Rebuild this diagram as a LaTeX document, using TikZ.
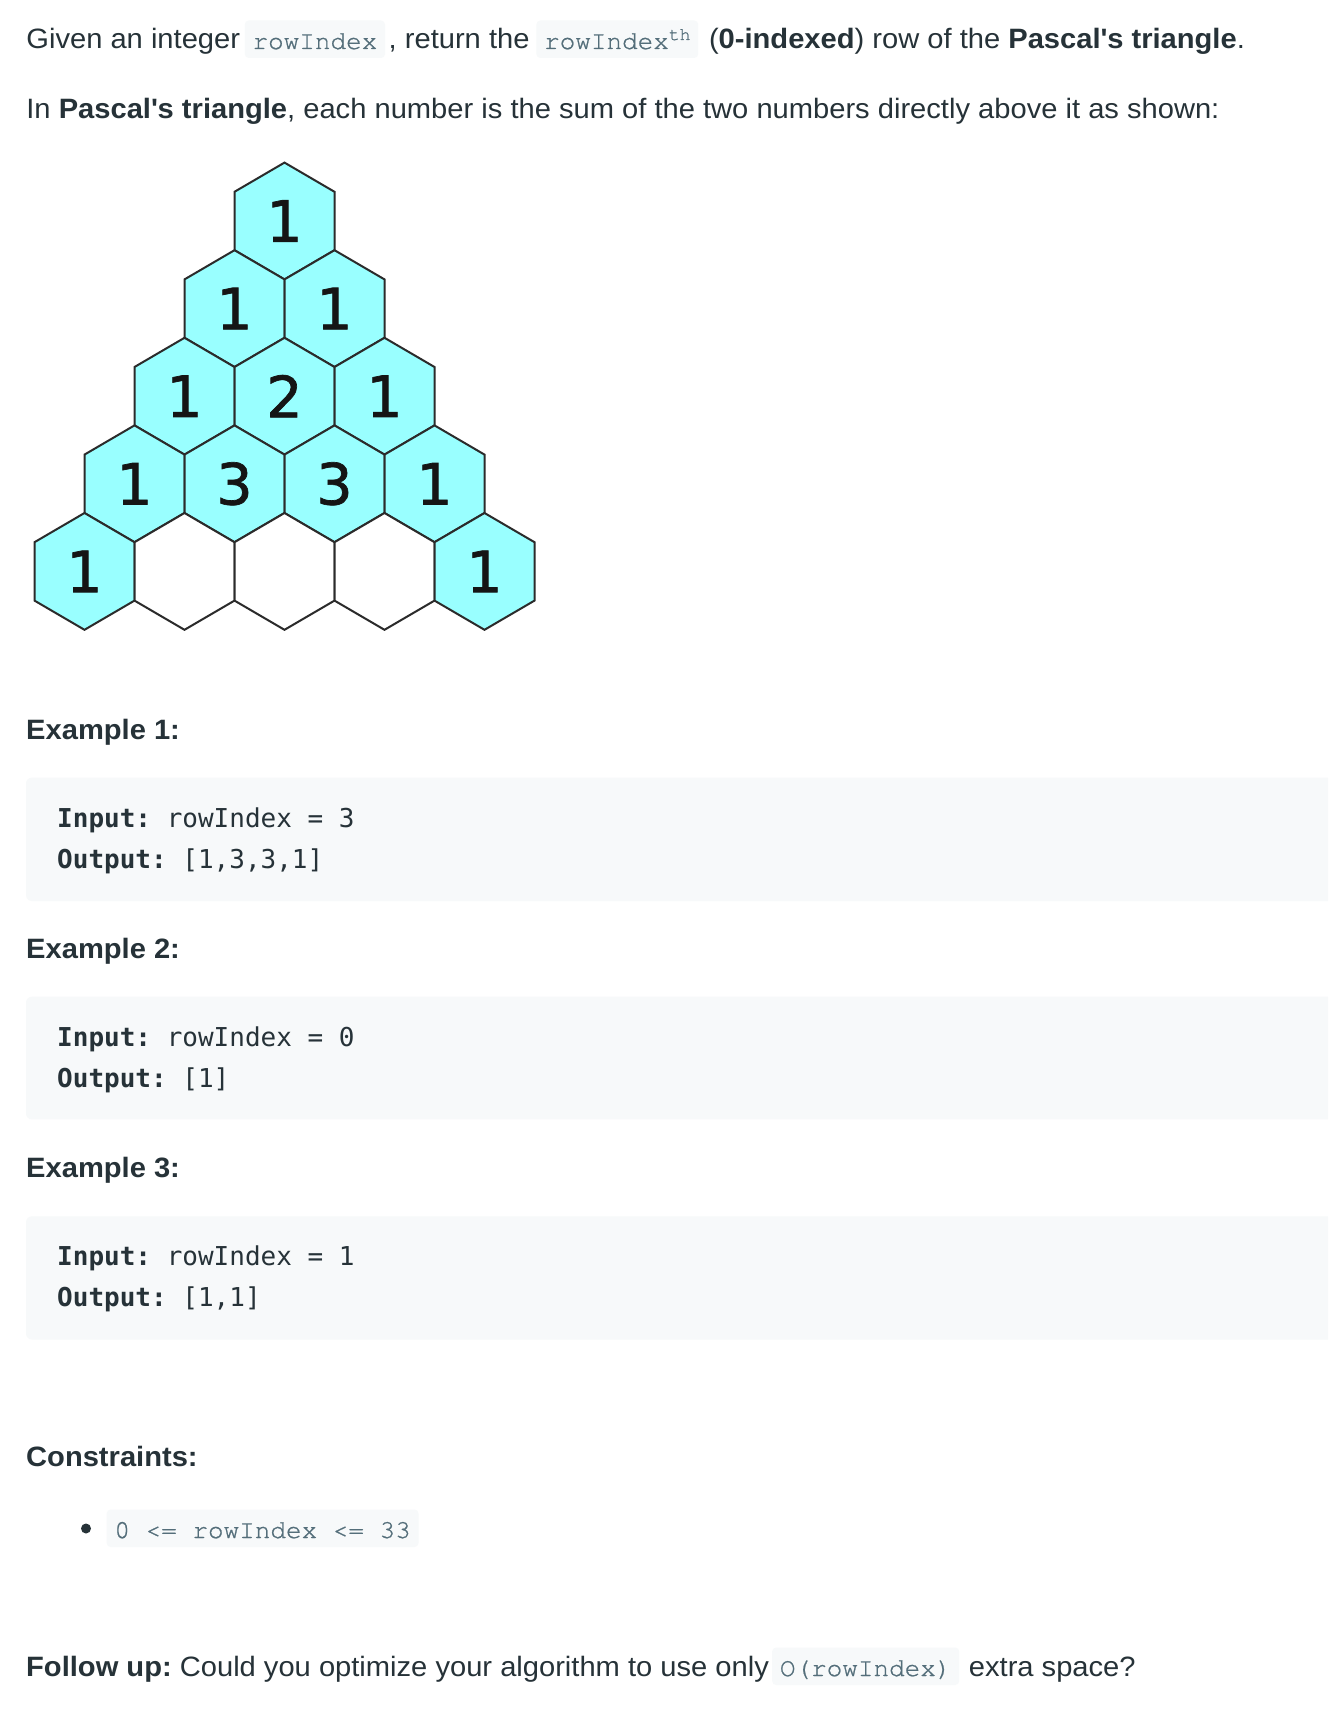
\documentclass[tikz,border=0pt]{standalone}
\usepackage{fontspec}
\setmainfont{Liberation Sans}[FakeStretch=1.04]
\newfontfamily\codefont{DejaVu Sans Mono}
\newfontfamily\inlinefont{texgyrecursor-regular.otf}[FakeBold=0.8]
\newfontfamily\digitfont{DejaVu Sans}[FakeBold=1.2]
\definecolor{textdark}{HTML}{263238}
\definecolor{codebg}{HTML}{F7F9FA}
\definecolor{codefg}{HTML}{546E7A}
\definecolor{hexfill}{HTML}{99FFFF}
\definecolor{hexline}{HTML}{2B2B2B}
\definecolor{digitdark}{HTML}{151515}
\frenchspacing
\tikzset{
  para/.style={anchor=base west, inner sep=0pt, text=textdark, font=\fontsize{28}{34}\selectfont},
  inlinecode/.style={anchor=base west, fill=codebg, text=codefg, rounded corners=4pt,
    inner xsep=7.7pt, inner ysep=0pt, text height=28.5pt, text depth=9pt,
    font=\inlinefont\fontsize{26}{26}\selectfont},
  codeline/.style={anchor=base west, inner sep=0pt, text=textdark, font=\codefont\fontsize{26}{30}\selectfont},
  hexnum/.style={inner sep=0pt, text=digitdark, font=\digitfont\fontsize{57}{57}\selectfont},
  hexedge/.style={draw=hexline, line width=2pt, line join=miter},
  pics/hexcell/.style={code={
    \draw[hexedge, fill=#1] (0,-58.4) -- (50,-29.2) -- (50,29.2) -- (0,58.4) -- (-50,29.2) -- (-50,-29.2) -- cycle;}},
}
\begin{document}
\begin{tikzpicture}[x=1pt, y=-1pt]
  \fill[white] (0,0) rectangle (1328,1712);
  \useasboundingbox (0,0) rectangle (1328,1712);

  % statement
  \node[para] (given) at (26.2,49) {Given an integer};
  \node[inlinecode] (idx1) at (244.6,49) {rowIndex};
  \node[para] (ret) at (388.5,49) {, return the};
  \node[inlinecode] (idx2) at (536.2,49) {rowIndex\raisebox{9pt}{\fontsize{18}{18}\selectfont th}};
  \node[para] (rowof) at (708.8,49) {(\textbf{0-indexed}) row of the \textbf{Pascal\textquotesingle s triangle}.};
  \node[para] (intro) at (26.2,119) {In \textbf{Pascal\textquotesingle s triangle}, each number is the sum of the two numbers directly above it as shown:};

  % hexagon triangle, row \r and cell \j
  \foreach \r in {0,...,4}{
    \foreach \j in {0,...,\r}{
      \pgfmathsetmacro\cx{284.5+(\j-\r/2)*100}
      \pgfmathsetmacro\cy{221+\r*87.6}
      \pgfmathtruncatemacro\val{factorial(\r)/(factorial(\j)*factorial(\r-\j))}
      \pgfmathtruncatemacro\blank{(\r==4)&&(\j>0)&&(\j<4)}
      \ifnum\blank=1
        \path (\cx,\cy) pic {hexcell=white};
      \else
        \path (\cx,\cy) pic {hexcell=hexfill};
        \node[hexnum] (n\r\j) at (\cx,\cy) {\val};
      \fi
    }
  }

  % code blocks
  \foreach \ya/\yb in {777.6/901, 996.7/1119.4, 1216.3/1339.5}
    \fill[codebg, rounded corners=6pt] (1328,\ya) -- (26,\ya) -- (26,\yb) -- (1328,\yb);

  \node[para] (ex1) at (26,739.3) {\textbf{Example 1:}};
  \node[codeline] (in1) at (57,827.7) {\textbf{Input:} rowIndex = 3};
  \node[codeline] (out1) at (57,868.5) {\textbf{Output:} [1,3,3,1]};

  \node[para] (ex2) at (26,958.3) {\textbf{Example 2:}};
  \node[codeline] (in2) at (57,1046.7) {\textbf{Input:} rowIndex = 0};
  \node[codeline] (out2) at (57,1087.5) {\textbf{Output:} [1]};

  \node[para] (ex3) at (26,1177) {\textbf{Example 3:}};
  \node[codeline] (in3) at (57,1265) {\textbf{Input:} rowIndex = 1};
  \node[codeline] (out3) at (57,1306) {\textbf{Output:} [1,1]};

  % constraints
  \node[para] (cons) at (26,1466.6) {\textbf{Constraints:}};
  \fill[textdark] (86,1528.5) circle (5);
  \node[inlinecode] (range) at (106.5,1538) {0 <= rowIndex <= 33};

  % follow up
  \node[para] (fup) at (26,1676) {\textbf{Follow up:} Could you optimize your algorithm to use only};
  \node[inlinecode] (space) at (772,1676) {O(rowIndex)};
  \node[para] (extra) at (968.7,1676) {extra space?};
\end{tikzpicture}
\end{document}
